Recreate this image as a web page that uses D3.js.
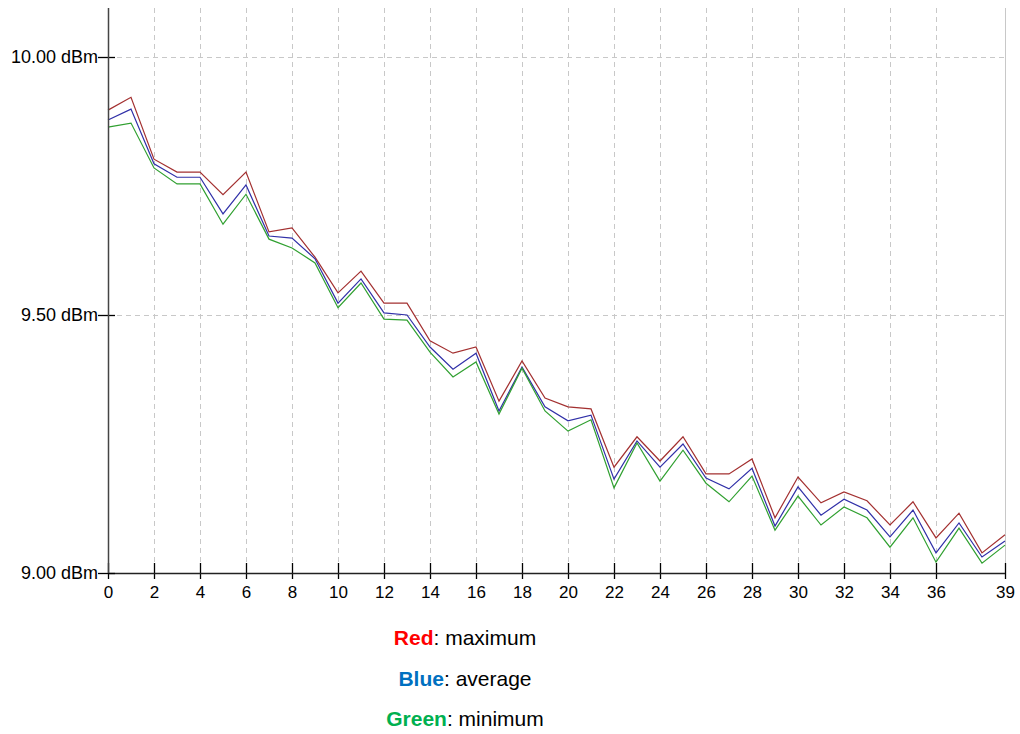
<!DOCTYPE html>
<html><head><meta charset="utf-8">
<script src="https://cdn.jsdelivr.net/npm/d3@7"></script>
<style>
body{margin:0;background:#fff;}
svg{display:block;font-family:Arial,"Liberation Sans",sans-serif;}
</style></head>
<body>
<svg id="c" width="1020" height="734"></svg>
<script>
const xIndex = d3.range(0, 40);
const maximum = [9.897,9.922,9.802,9.777,9.777,9.733,9.777,9.661,9.669,9.612,
  9.543,9.585,9.523,9.523,9.450,9.426,9.438,9.333,9.411,9.339,
  9.322,9.318,9.205,9.264,9.217,9.264,9.192,9.192,9.221,9.107,
  9.186,9.136,9.157,9.140,9.093,9.138,9.068,9.116,9.039,9.074];
const average = [9.878,9.899,9.793,9.767,9.767,9.696,9.752,9.653,9.649,9.609,
  9.523,9.570,9.504,9.500,9.438,9.395,9.426,9.314,9.399,9.322,
  9.295,9.306,9.182,9.256,9.205,9.250,9.184,9.163,9.203,9.091,
  9.167,9.112,9.143,9.122,9.070,9.122,9.039,9.097,9.031,9.062];
const minimum = [9.864,9.872,9.785,9.754,9.754,9.676,9.734,9.647,9.630,9.601,
  9.514,9.562,9.492,9.490,9.428,9.380,9.409,9.308,9.397,9.314,
  9.275,9.297,9.165,9.252,9.178,9.238,9.174,9.138,9.188,9.083,
  9.149,9.093,9.128,9.107,9.050,9.107,9.021,9.087,9.019,9.054];
const xTicks = [0,2,4,6,8,10,12,14,16,18,20,22,24,26,28,30,32,34,36,39];
const yTicks = [9.00, 9.50, 10.00];
const seriesNames = ["maximum","average","minimum"];
const legendWords = ["Red","Blue","Green"];

const svg = d3.select("#c");
const x = d3.scaleLinear().domain([0,39]).range([108,1005]);
const y = d3.scaleLinear().domain([9,10]).range([573,57]);
const yTop = 8;
const FF = "Arial, 'Liberation Sans', sans-serif";

// grid
const g = svg.append("g");
g.selectAll(".vg").data(xTicks.filter(t=>t>0 && t<39)).join("line")
  .attr("x1",d=>x(d)+0.5).attr("x2",d=>x(d)+0.5).attr("y1",yTop).attr("y2",y(9))
  .attr("stroke","#c8c8c8").attr("stroke-dasharray","5,4");
g.append("line").attr("x1",x(39)+0.5).attr("x2",x(39)+0.5).attr("y1",yTop).attr("y2",y(9))
  .attr("stroke","#c8c8c8");
g.selectAll(".hg").data(yTicks.filter(t=>t>9)).join("line")
  .attr("x1",x(0)).attr("x2",x(39)).attr("y1",d=>y(d)+0.5).attr("y2",d=>y(d)+0.5)
  .attr("stroke","#c8c8c8").attr("stroke-dasharray","5,4");

// lines
const colors = ["#a33030","#3030a8","#30a030"];
[maximum, average, minimum].forEach((arr,i)=>{
  svg.append("path").datum(arr)
    .attr("fill","none").attr("stroke",colors[i]).attr("stroke-width",1.2)
    .attr("d", d3.line().x((d,j)=>x(xIndex[j])).y(d=>y(d)));
});

// axes
const xAxis = d3.axisBottom(x).tickValues(xTicks).tickFormat(d3.format("d")).tickSize(0);
const xa = svg.append("g").attr("transform",`translate(0,${y(9)})`).call(xAxis)
  .attr("font-size",17).attr("font-family",FF);
xa.select(".domain").remove();
xa.selectAll("text").attr("dy",null).attr("y",25).attr("fill","#000");
xa.selectAll(".tick").append("line").attr("y1",-10).attr("y2",6).attr("stroke","#000").attr("stroke-width",1.3);
svg.append("line").attr("x1",x(0)).attr("x2",x(39)).attr("y1",y(9)+0.5).attr("y2",y(9)+0.5).attr("stroke","#222").attr("stroke-width",1.5);

const yAxis = d3.axisLeft(y).tickValues(yTicks).tickFormat(d=>d3.format(".2f")(d)+" dBm").tickSize(0);
const ya = svg.append("g").attr("transform",`translate(${x(0)},0)`).call(yAxis)
  .attr("font-size",18).attr("font-family",FF);
ya.select(".domain").remove();
ya.selectAll("text").attr("x",-10).attr("fill","#000");
ya.selectAll(".tick").append("line").attr("x1",-10).attr("x2",7).attr("stroke","#000").attr("stroke-width",1.3);
svg.append("line").attr("x1",x(0)+0.5).attr("x2",x(0)+0.5).attr("y1",yTop).attr("y2",y(9)).attr("stroke","#444").attr("stroke-width",1.5);

// legend
const lc = ["#ff0000","#0070c0","#00b050"];
const leg = svg.append("g").attr("font-family",FF);
seriesNames.forEach((n,i)=>{
  const t = leg.append("text").attr("x",465).attr("y",645+i*40.5).attr("text-anchor","middle").attr("font-size",21);
  t.append("tspan").attr("font-weight","bold").attr("fill",lc[i]).text(legendWords[i]);
  t.append("tspan").attr("fill","#000").text(": "+n);
});
</script>
</body></html>
